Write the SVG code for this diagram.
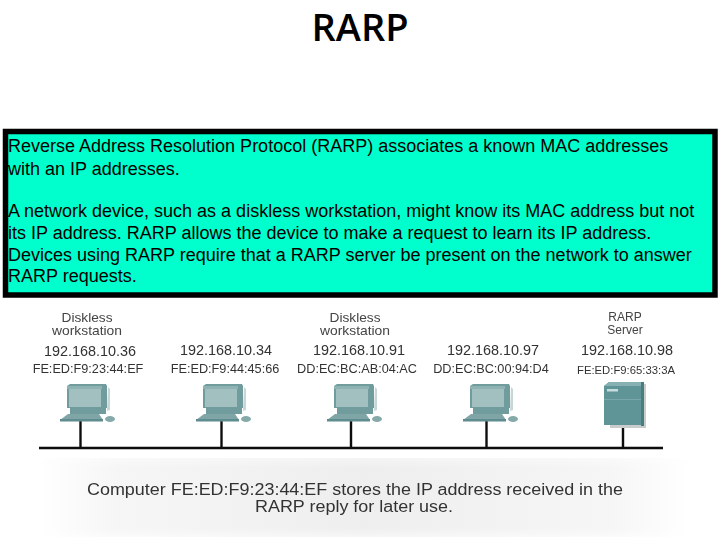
<svg xmlns="http://www.w3.org/2000/svg" width="720" height="540" viewBox="0 0 720 540">
<style>
text{font-family:"Liberation Sans",Arial,sans-serif}
.title{font-family:"Open Sans","Noto Sans",sans-serif;font-size:38px;fill:#000;text-anchor:middle;font-weight:600}
.body{font-size:18px;fill:#000}
.name{font-size:12.4px;fill:#444;text-anchor:middle}
.srv{font-size:12px;fill:#444;text-anchor:middle}
.ip{font-size:14.4px;fill:#333;text-anchor:middle}
.mac{font-size:12.7px;fill:#333;text-anchor:middle}
.mac2{font-size:11.3px;fill:#333;text-anchor:middle}
.cap{font-size:16px;fill:#333;text-anchor:middle}
.wire{stroke:#111;stroke-width:2.4;fill:none}
</style>
<defs>
<filter id="soft" x="-5%" y="-5%" width="110%" height="110%"><feGaussianBlur stdDeviation="0.4"/></filter>
<linearGradient id="panel" x1="0" x2="1" y1="0" y2="0">
<stop offset="0" stop-color="#fff"/><stop offset="0.12" stop-color="#f6f6f6"/><stop offset="0.5" stop-color="#eeeeee"/><stop offset="0.88" stop-color="#f6f6f6"/><stop offset="1" stop-color="#fff"/>
</linearGradient>
<linearGradient id="panelV" x1="0" x2="0" y1="0" y2="1">
<stop offset="0" stop-color="#fff" stop-opacity="0.4"/><stop offset="0.12" stop-color="#fff" stop-opacity="0"/><stop offset="0.88" stop-color="#fff" stop-opacity="0"/><stop offset="1" stop-color="#fff" stop-opacity="0.5"/>
</linearGradient>
<g id="pc">
<path d="M28,-33 L30,-31 L30,-10 L27,-9 Z" fill="#c9d6d6"/>
<path d="M-13,-34 L-10,-36 L26,-36 L27,-34 L27,-12 L-13,-12 Z" fill="#6f9c9e"/>
<rect x="-13" y="-34" width="35" height="3" fill="#8fb2b3"/>
<rect x="-11" y="-31" width="32" height="18" fill="#a3c0c0"/>
<rect x="-10" y="-12" width="36" height="6" fill="#6f9c9e"/>
<path d="M-12,-6 L19,-6 L23,0 L-20,0 Z" fill="#7fa5a6"/>
<rect x="-20" y="-1" width="43" height="2.5" fill="#5f8c8e"/>
<ellipse cx="30" cy="-1" rx="5" ry="3" fill="#86a9aa"/>
</g>
</defs>
<g id="title"><text class="title" x="360" y="41">RARP</text></g>
<g id="image-area" filter="url(#soft)">
<g id="caption">
<rect x="38" y="458" width="652" height="79" fill="url(#panel)"/>
<rect x="38" y="458" width="652" height="79" fill="url(#panelV)"/>
<text class="cap" x="355" y="495" textLength="536" lengthAdjust="spacingAndGlyphs">Computer FE:ED:F9:23:44:EF stores the IP address received in the</text>
<text class="cap" x="354" y="512" textLength="198" lengthAdjust="spacingAndGlyphs">RARP reply for later use.</text>
</g>
<g id="connectors">
<path class="wire" d="M39,448 H663 M80.500,421 V448 M221.500,421 V448 M351,421 V448 M486.500,421 V448 M623,426 V448"/>
</g>
<g id="node-1">
<text class="name" x="87" y="322" textLength="51" lengthAdjust="spacingAndGlyphs">Diskless</text><text class="name" x="87" y="335" textLength="70" lengthAdjust="spacingAndGlyphs">workstation</text>
<text class="ip" x="90" y="356">192.168.10.36</text><text class="mac" x="88" y="373">FE:ED:F9:23:44:EF</text>
<use href="#pc" x="80" y="420"/>
</g>
<g id="node-2">
<text class="ip" x="226" y="355">192.168.10.34</text><text class="mac" x="225" y="373">FE:ED:F9:44:45:66</text>
<use href="#pc" x="216" y="420"/>
</g>
<g id="node-3">
<text class="name" x="355" y="322" textLength="51" lengthAdjust="spacingAndGlyphs">Diskless</text><text class="name" x="355" y="335" textLength="70" lengthAdjust="spacingAndGlyphs">workstation</text>
<text class="ip" x="359" y="355">192.168.10.91</text><text class="mac" x="357" y="373">DD:EC:BC:AB:04:AC</text>
<use href="#pc" x="347" y="420"/>
</g>
<g id="node-4">
<text class="ip" x="493" y="355">192.168.10.97</text><text class="mac" x="491" y="373">DD:EC:BC:00:94:D4</text>
<use href="#pc" x="483" y="420"/>
</g>
<g id="node-5">
<text class="srv" x="625" y="321">RARP</text><text class="srv" x="625" y="334">Server</text>
<text class="ip" x="627" y="355">192.168.10.98</text><text class="mac2" x="626" y="374">FE:ED:F9:65:33:3A</text>
<path d="M610,384 H646 V428 H610 Z" fill="#c8cccc"/>
<path d="M604,386 L609,382 H642 V425 H604 Z" fill="#5f9597"/>
<path d="M604,386 L609,382 H642 L641,386 Z" fill="#86b0b1"/>
<rect x="641" y="382" width="3" height="44" fill="#497d80"/>
<rect x="604" y="399" width="37" height="1" fill="#78a8a9"/>
<rect x="607" y="389" width="11" height="2.500" fill="#c7dddd"/>
</g>
</g>
<g id="info-box">
<rect x="5.500" y="131.500" width="709.500" height="163.500" fill="#00ffcc" stroke="#000" stroke-width="5.500"/>
<text class="body" x="8" y="152">Reverse Address Resolution Protocol (RARP) associates a known MAC addresses</text>
<text class="body" x="8" y="175">with an IP addresses.</text>
<text class="body" x="8" y="217">A network device, such as a diskless workstation, might know its MAC address but not</text>
<text class="body" x="8" y="239">its IP address. RARP allows the device to make a request to learn its IP address.</text>
<text class="body" x="8" y="261">Devices using RARP require that a RARP server be present on the network to answer</text>
<text class="body" x="8" y="282">RARP requests.</text>
</g>
</svg>
